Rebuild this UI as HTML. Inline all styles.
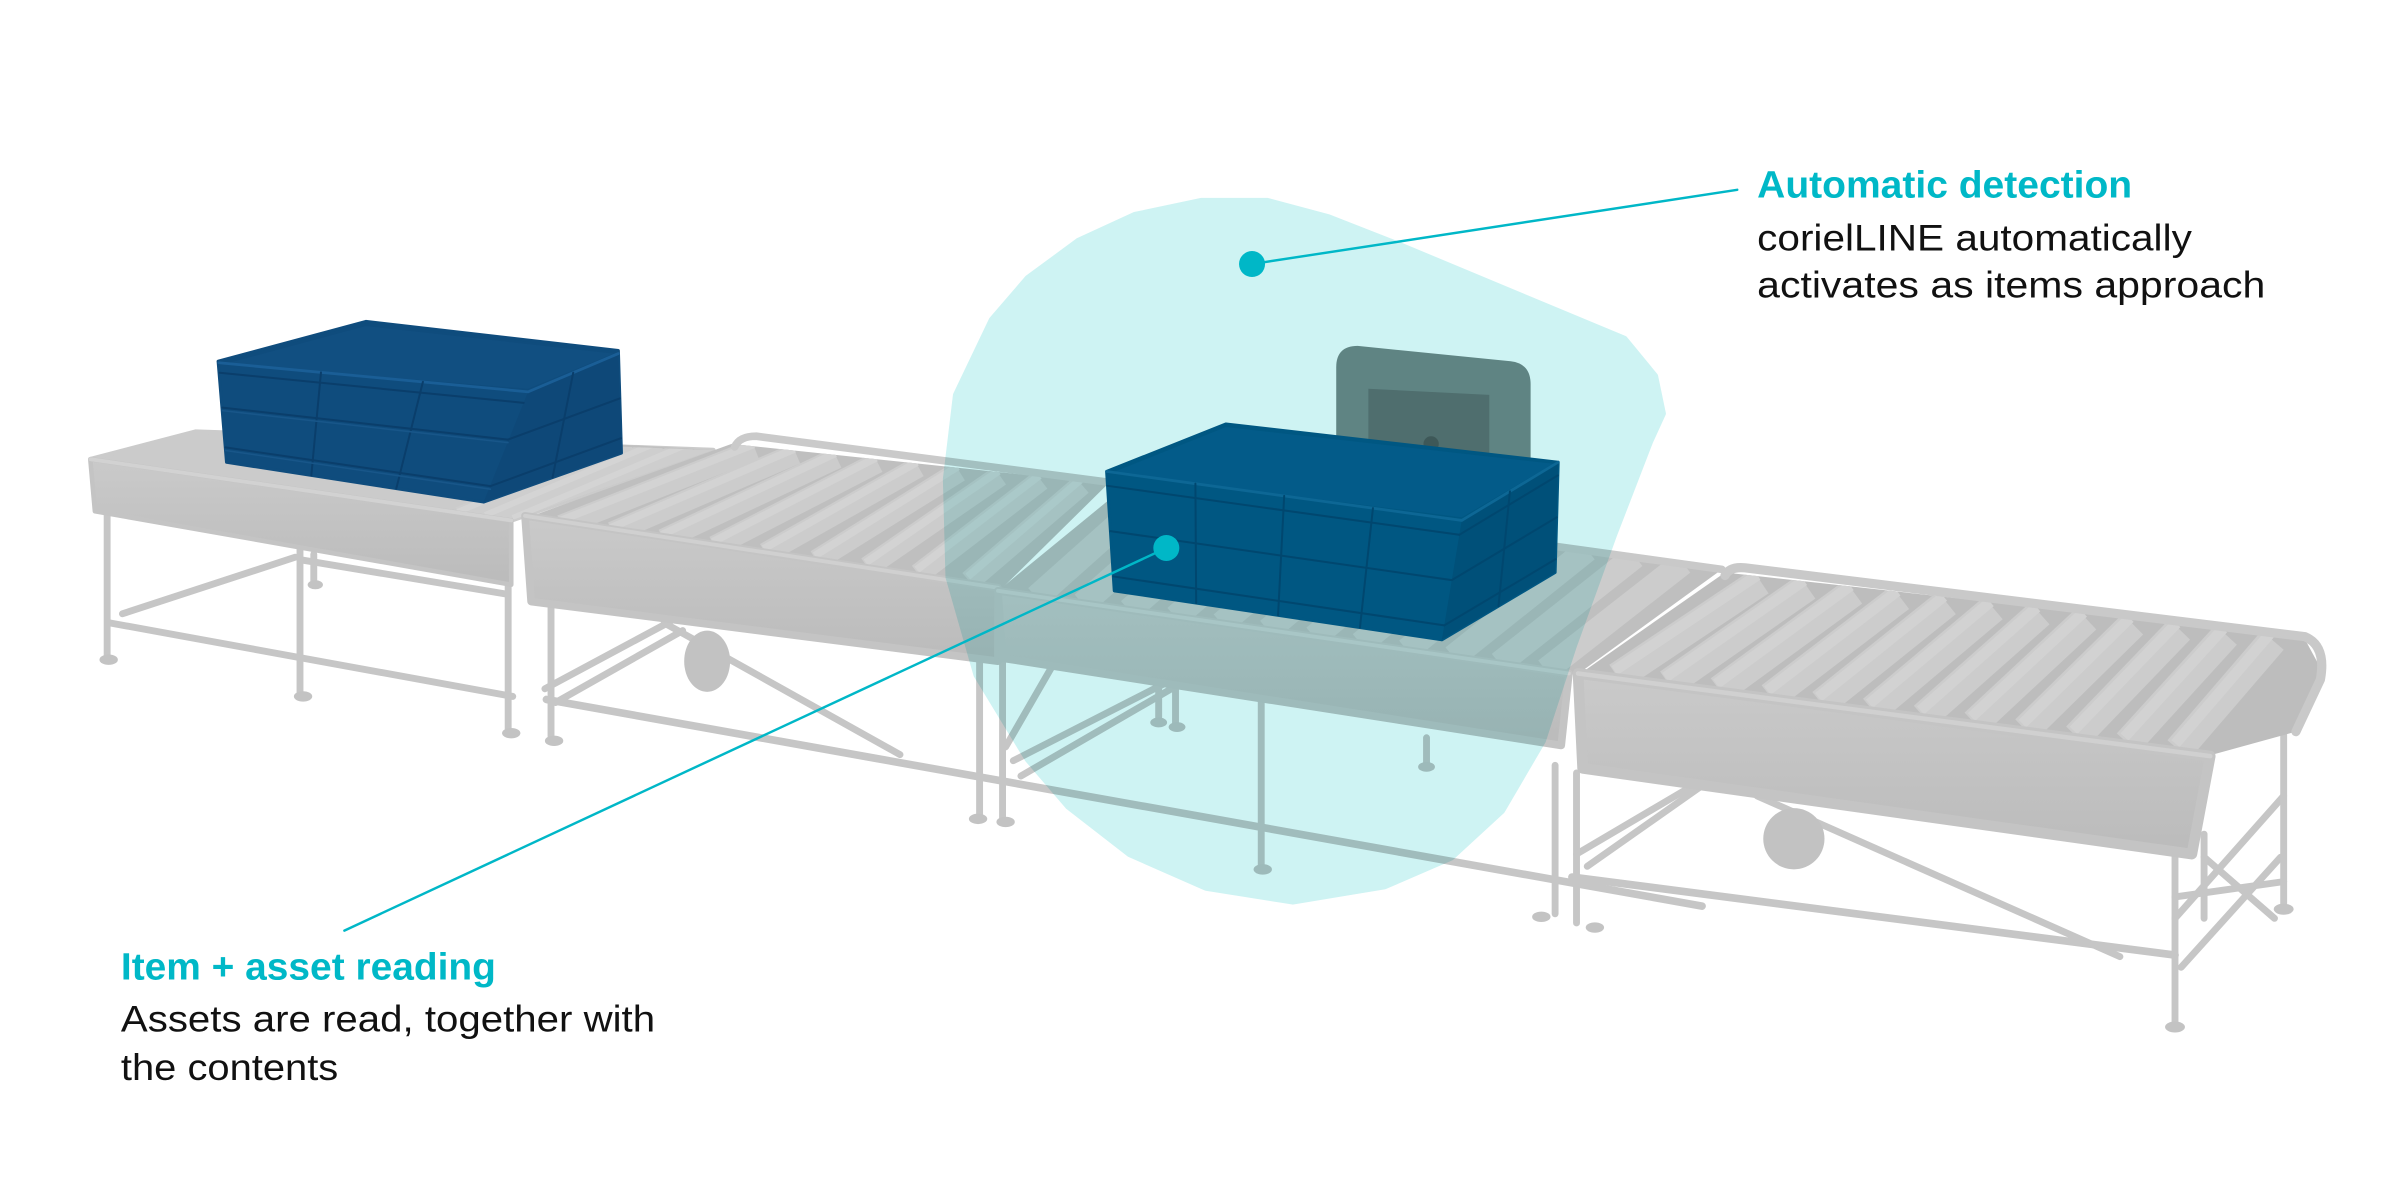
<!DOCTYPE html>
<html>
<head>
<meta charset="utf-8">
<style>
  html,body{margin:0;padding:0;background:#ffffff;}
  body{width:2400px;height:1200px;overflow:hidden;}
  svg{display:block;}
  .blob{mix-blend-mode:multiply;}
</style>
</head>
<body>
<svg width="2400" height="1200" viewBox="0 0 1568 784" xmlns="http://www.w3.org/2000/svg">
  <defs>
    <linearGradient id="pg" x1="0" y1="0" x2="0" y2="1">
      <stop offset="0" stop-color="#cacaca"/>
      <stop offset="1" stop-color="#bbbbbb"/>
    </linearGradient>
    <clipPath id="clipA"><polygon points="59,300 128,282 466,294 334,340"/></clipPath>
    <clipPath id="clipB"><polygon points="345,338 478,290 724,316 655,384"/></clipPath>
    <clipPath id="clipC"><polygon points="652,386 735,318 1125,372 1030,441"/></clipPath>
    <clipPath id="clipD"><polygon points="1034,439 1127,374 1505,416 1518,440 1500,478 1442,494"/></clipPath>
  </defs>

  <rect x="0" y="0" width="1568" height="784" fill="#ffffff"/>

  <!-- ===== Legs and rails ===== -->
  <g stroke="#c6c6c6" stroke-width="4.5" stroke-linecap="round" fill="none">
    <!-- section A -->
    <path d="M70 333 V429"/>
    <path d="M196 355 V453"/>
    <path d="M205 362 V380"/>
    <path d="M332 382 V477"/>
    <path d="M360 392 V481"/>
    <path d="M72 407 L335 455"/>
    <path d="M80 401 L193 364"/>
    <path d="M198 366 L330 388"/>
    <!-- section B -->
    <path d="M640 376 V533"/>
    <path d="M655 430 V535"/>
    <path d="M357 457 L1112 592" stroke-width="5"/>
    <path d="M434 407 L588 493"/>
    <path d="M356 450 L438 406"/>
    <path d="M363 459 L446 412"/>
    <!-- section C -->
    <path d="M824 450 V566"/>
    <path d="M757 448 V471"/>
    <path d="M768 450 V473"/>
    <path d="M932 482 V499"/>
    <path d="M667 507 L767 449"/>
    <path d="M657 488 L687 436"/>
    <path d="M662 497 L760 447"/>
    <!-- section D -->
    <path d="M1016 500 V597"/>
    <path d="M1030 505 V603"/>
    <path d="M1421 555 V668"/>
    <path d="M1492 478 V591"/>
    <path d="M1440 545 V600"/>
    <path d="M1027 573 L1421 624" stroke-width="5"/>
    <path d="M1148 520 L1385 625"/>
    <path d="M1037 566 L1111 514"/>
    <path d="M1030 558 L1120 505"/>
    <path d="M1421 600 L1492 520"/>
    <path d="M1425 632 L1490 560"/>
    <path d="M1421 586 L1492 576"/>
    <path d="M1440 560 L1486 600"/>
  </g>
  <g fill="#c3c3c3">
    <ellipse cx="71" cy="431" rx="6" ry="3.4"/>
    <ellipse cx="198" cy="455" rx="6" ry="3.4"/>
    <ellipse cx="206" cy="382" rx="5" ry="3"/>
    <ellipse cx="334" cy="479" rx="6" ry="3.4"/>
    <ellipse cx="362" cy="484" rx="6" ry="3.4"/>
    <ellipse cx="639" cy="535" rx="6" ry="3.4"/>
    <ellipse cx="657" cy="537" rx="6" ry="3.4"/>
    <ellipse cx="825" cy="568" rx="6" ry="3.4"/>
    <ellipse cx="757" cy="472" rx="5.5" ry="3.2"/>
    <ellipse cx="769" cy="475" rx="5.5" ry="3.2"/>
    <ellipse cx="932" cy="501" rx="5.5" ry="3.2"/>
    <ellipse cx="1007" cy="599" rx="6" ry="3.4"/>
    <ellipse cx="1042" cy="606" rx="6" ry="3.4"/>
    <ellipse cx="1421" cy="671" rx="6.5" ry="3.6"/>
    <ellipse cx="1492" cy="594" rx="6.5" ry="3.6"/>
    <!-- motors -->
    <ellipse cx="462" cy="432" rx="15" ry="20" fill="#c2c2c2"/>
    <ellipse cx="1172" cy="548" rx="20" ry="20" fill="#c2c2c2"/>
  </g>

  <!-- ===== Section A ===== -->
  <polygon points="59,300 128,282 466,294 334,340" fill="#cbcbcb" stroke="#cbcbcb" stroke-width="3" stroke-linejoin="round"/>
  <polygon points="398,290 466,294 334,340 318,338" fill="#c0c0c0"/>
  <g clip-path="url(#clipA)" fill="none" stroke-linecap="butt">
    <g stroke="#cecece" stroke-width="12">
      <path d="M412 290 L300 337"/>
      <path d="M432 291 L318 339"/>
      <path d="M452 292 L336 341"/>
      <path d="M470 293 L354 343"/>
    </g>
    <g stroke="#d4d4d4" stroke-width="4" transform="translate(-1,-2.5)">
      <path d="M412 290 L300 337"/>
      <path d="M432 291 L318 339"/>
      <path d="M452 292 L336 341"/>
    </g>
  </g>
  <polygon points="59,300 334,340 334,382 62,334" fill="url(#pg)" stroke="#c4c4c4" stroke-width="3" stroke-linejoin="round"/>
  <path d="M59 300 L334 340" stroke="#d2d2d2" stroke-width="2.5" stroke-linecap="round"/>

  <!-- ===== Section B ===== -->
  <polygon points="345,338 478,290 724,316 655,384" fill="#bfbfbf"/>
  <g clip-path="url(#clipB)" fill="none">
    <g stroke="#cccccc" stroke-width="14">
      <path d="M493.3 293.4 L366.7 343.3"/>
      <path d="M520 296.3 L400 347.8"/>
      <path d="M546.7 299.2 L433.3 352.4"/>
      <path d="M573.3 302.1 L466.7 357"/>
      <path d="M600 305 L500 361.5"/>
      <path d="M626.7 307.9 L533.3 366.1"/>
      <path d="M653.3 310.8 L566.7 370.6"/>
      <path d="M680 313.7 L600 375.2"/>
      <path d="M706.7 316.6 L633.3 379.7"/>
    </g>
    <g stroke="#d3d3d3" stroke-width="5" transform="translate(-1,-3)">
      <path d="M493.3 293.4 L366.7 343.3"/>
      <path d="M520 296.3 L400 347.8"/>
      <path d="M546.7 299.2 L433.3 352.4"/>
      <path d="M573.3 302.1 L466.7 357"/>
      <path d="M600 305 L500 361.5"/>
      <path d="M626.7 307.9 L533.3 366.1"/>
      <path d="M653.3 310.8 L566.7 370.6"/>
      <path d="M680 313.7 L600 375.2"/>
      <path d="M706.7 316.6 L633.3 379.7"/>
    </g>
  </g>
  <path d="M480 292 Q483 285 494 285 L724 315" stroke="#cacaca" stroke-width="5" fill="none" stroke-linecap="round" stroke-linejoin="round"/>
  <polygon points="343,337 652,384 652,432 347,393" fill="url(#pg)" stroke="#c4c4c4" stroke-width="5" stroke-linejoin="round"/>
  <path d="M343 337 L652 384" stroke="#d0d0d0" stroke-width="2.5" stroke-linecap="round"/>

  <!-- ===== Section C ===== -->
  <polygon points="652,386 735,318 1125,372 1030,441" fill="#bfbfbf"/>
  <g clip-path="url(#clipC)" fill="none">
    <g stroke="#cccccc" stroke-width="16">
      <path d="M755.6 320.2 L677.1 390.2"/>
      <path d="M786.9 324.5 L707.4 394.5"/>
      <path d="M818.1 328.8 L737.6 398.8"/>
      <path d="M849.4 333.2 L767.9 403.2"/>
      <path d="M880.6 337.5 L798.1 407.5"/>
      <path d="M911.9 341.8 L828.4 411.8"/>
      <path d="M943.1 346.2 L858.6 416.2"/>
      <path d="M974.4 350.5 L888.9 420.5"/>
      <path d="M1005.6 354.8 L919.1 424.8"/>
      <path d="M1036.9 359.2 L949.4 429.2"/>
      <path d="M1068.1 363.5 L979.6 433.5"/>
      <path d="M1099.4 367.8 L1009.9 437.8"/>
    </g>
  </g>
  <path d="M735 318 L1125 372" stroke="#c9c9c9" stroke-width="5" fill="none" stroke-linecap="round"/>
  <polygon points="652,386 1025,440 1020,487 655,430" fill="url(#pg)" stroke="#c4c4c4" stroke-width="5" stroke-linejoin="round"/>
  <path d="M652 386 L1025 440" stroke="#d0d0d0" stroke-width="2.5" stroke-linecap="round"/>

  <!-- ===== Section D ===== -->
  <polygon points="1034,439 1127,374 1505,416 1518,440 1500,478 1442,494" fill="#bdbdbd"/>
  <g clip-path="url(#clipD)" fill="none">
    <g stroke="#cccccc" stroke-width="19">
      <path d="M1150.2 379.8 L1056.7 442.2"/>
      <path d="M1180.6 383.3 L1090 446.5"/>
      <path d="M1211 386.7 L1123.3 450.8"/>
      <path d="M1241.5 390.3 L1156.7 455.2"/>
      <path d="M1271.9 393.8 L1190 459.5"/>
      <path d="M1302.3 397.3 L1223.3 463.8"/>
      <path d="M1332.7 400.8 L1256.7 468.2"/>
      <path d="M1363.1 404.3 L1290 472.5"/>
      <path d="M1393.5 407.8 L1323.3 476.8"/>
      <path d="M1424 411.3 L1356.7 481.2"/>
      <path d="M1454.4 414.8 L1390 485.5"/>
      <path d="M1484.8 418.3 L1423.3 489.8"/>
    </g>
    <g stroke="#d2d2d2" stroke-width="7" transform="translate(-2,-4)">
      <path d="M1150.2 379.8 L1056.7 442.2"/>
      <path d="M1180.6 383.3 L1090 446.5"/>
      <path d="M1211 386.7 L1123.3 450.8"/>
      <path d="M1241.5 390.3 L1156.7 455.2"/>
      <path d="M1271.9 393.8 L1190 459.5"/>
      <path d="M1302.3 397.3 L1223.3 463.8"/>
      <path d="M1332.7 400.8 L1256.7 468.2"/>
      <path d="M1363.1 404.3 L1290 472.5"/>
      <path d="M1393.5 407.8 L1323.3 476.8"/>
      <path d="M1424 411.3 L1356.7 481.2"/>
      <path d="M1454.4 414.8 L1390 485.5"/>
      <path d="M1484.8 418.3 L1423.3 489.8"/>
    </g>
  </g>
  <path d="M1127 376 Q1130 370 1140 371 L1506 416 Q1520 422 1516 444 L1500 478" stroke="#c9c9c9" stroke-width="6" fill="none" stroke-linecap="round" stroke-linejoin="round"/>
  <polygon points="1031,440 1444,494 1432,558 1034,502" fill="url(#pg)" stroke="#c4c4c4" stroke-width="7" stroke-linejoin="round"/>
  <path d="M1031 440 L1444 494" stroke="#d0d0d0" stroke-width="3" stroke-linecap="round"/>

  <!-- ===== Sensor panel ===== -->
  <path d="M887 226 L987 236 Q1000 237.5 1000 251 L1000 300 L873 300 L873 240 Q873 226 887 226 Z" fill="#758b8a"/>
  <path d="M894 254 L973 258 L973 298 L894 298 Z" fill="#617373"/>
  <circle cx="935" cy="290" r="5" fill="#4d5c5c"/>

  <!-- ===== Crate 1 ===== -->
  <polygon points="142.5,236 239,210 404,229 406,296 316,328 148,302" fill="#0f4c7d" stroke="#0f4c7d" stroke-width="2" stroke-linejoin="round"/>
  <polygon points="146,238 239,213 401,231 345,254" fill="#114f81"/>
  <polygon points="345,256 404,231 406,296 316,328" fill="#0e4878"/>
  <g fill="none" stroke-linecap="round">
    <polyline points="143,237 345,256 404,231" stroke="#1a5e96" stroke-width="1.8"/>
    <g stroke="#0a3e6b" stroke-width="1.3">
      <path d="M143.5 243.5 L342.1 263.2"/>
      <path d="M145.3 266.3 L331.9 287.2"/>
      <path d="M147.3 292.3 L320.4 317.6"/>
      <path d="M331.9 287.2 L404.9 260.3"/>
      <path d="M320.4 317.6 L405.7 286.3"/>
      <path d="M209.7 243.3 L203.4 310.6"/>
      <path d="M276.3 249.5 L258.9 319.2"/>
      <path d="M374.5 243.5 L361 312"/>
    </g>
    <g stroke="#185689" stroke-width="1">
      <path d="M145.3 268.3 L331.9 289.2"/>
      <path d="M147.3 294.3 L320.4 319.6"/>
    </g>
  </g>

  <!-- ===== Crate 2 ===== -->
  <polygon points="723,308 801,277 1018,302 1016,374 942,418 728,386" fill="#005b88" stroke="#005b88" stroke-width="2" stroke-linejoin="round"/>
  <polygon points="726,309 801,279 1015,303 955,338" fill="#035f90"/>
  <polygon points="955,340 1018,302 1016,374 942,418" fill="#00547f"/>
  <g fill="none" stroke-linecap="round">
    <polyline points="723,308 955,340 1018,302" stroke="#106c9c" stroke-width="1.8"/>
    <g stroke="#004a74" stroke-width="1.3">
      <path d="M723.6 317.4 L953.4 349.4"/>
      <path d="M725.5 347 L948.5 379"/>
      <path d="M727.4 376.6 L943.6 408.6"/>
      <path d="M953.4 349.4 L1017.8 310.6"/>
      <path d="M948.5 379 L1017 338"/>
      <path d="M943.6 408.6 L1016.2 365.4"/>
      <path d="M781 316 L781.5 394"/>
      <path d="M839 324 L835 402"/>
      <path d="M897 332 L888.5 410"/>
      <path d="M986.5 321 L979 396"/>
    </g>
  </g>

  <!-- ===== Detection zone blob ===== -->
  <polygon class="blob" fill="#cef3f3" stroke="#cef3f3" stroke-width="4" stroke-linejoin="round"
    points="784.7,131.3 828,131.3 868,142 914.7,160.3 987.9,190.8 1061.3,221.4 1081.3,245.7 1086.4,270.2 1078,288.6 1054.5,349.5 1028,422.7 1008,484 981.3,529.7 948,560.3 904.7,579 844.7,589 788,580 738,558 698,527 671.4,496 638,441 619.7,377 618,313 624.6,258 648,209 671.4,181.8 704.7,157.3 741.3,140.5"/>

  <!-- ===== Leader lines and dots ===== -->
  <g stroke="#00b7c7" stroke-width="1.6" fill="none" stroke-linecap="round">
    <path d="M818 172.5 L1135 124"/>
    <path d="M762 358 L225 608"/>
  </g>
  <circle cx="818" cy="172.5" r="8.5" fill="#00b7c7"/>
  <circle cx="762" cy="358" r="8.5" fill="#00b7c7"/>

  <!-- ===== Text ===== -->
  <g font-family="'Liberation Sans', Arial, sans-serif">
    <text x="1148" y="129" font-size="25" font-weight="bold" fill="#00b8c7" textLength="245" lengthAdjust="spacingAndGlyphs">Automatic detection</text>
    <text x="1148" y="163.5" font-size="24.5" fill="#111111" textLength="284" lengthAdjust="spacingAndGlyphs">corielLINE automatically</text>
    <text x="1148" y="194.5" font-size="24.5" fill="#111111" textLength="332" lengthAdjust="spacingAndGlyphs">activates as items approach</text>

    <text x="79" y="640" font-size="25" font-weight="bold" fill="#00b8c7" textLength="245" lengthAdjust="spacingAndGlyphs">Item + asset reading</text>
    <text x="79" y="674" font-size="24.5" fill="#111111" textLength="349" lengthAdjust="spacingAndGlyphs">Assets are read, together with</text>
    <text x="79" y="705.5" font-size="24.5" fill="#111111" textLength="142" lengthAdjust="spacingAndGlyphs">the contents</text>
  </g>
</svg>
</body>
</html>
